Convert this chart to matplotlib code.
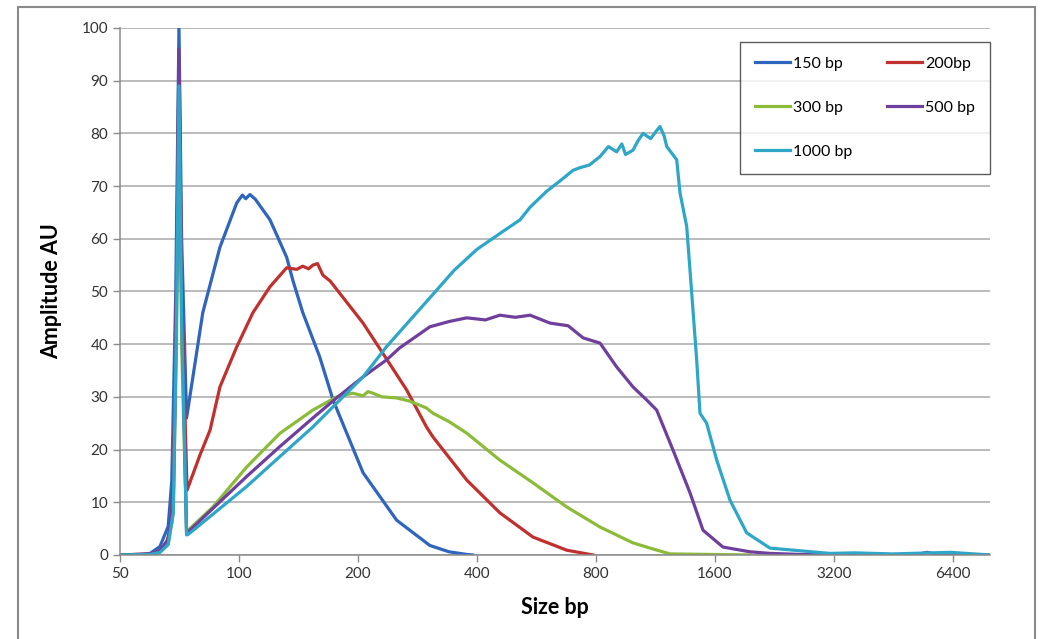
import matplotlib
matplotlib.use("Agg")
import matplotlib.pyplot as plt
from matplotlib.patches import Rectangle
from matplotlib.ticker import FixedLocator, FixedFormatter, NullLocator

plt.rcParams['font.family'] = ['Lato', 'DejaVu Sans']

# fragment size (bp) and amplitude (AU)
bp150_x = [50, 56.2, 59.6, 63.1, 66.2, 67.6, 69.2, 70.5, 71.6, 73.7, 81, 89.5, 98.7,
           102, 104, 106.6, 110, 119.8, 132, 137, 145, 160, 173, 206, 250.5, 304, 340, 377, 390]
bp150_y = [0, 0, 0.3, 1.6, 5.4, 14, 50, 100, 60, 26, 46, 58.4, 66.8,
           68.3, 67.6, 68.4, 67.5, 63.6, 56.5, 52, 46, 37.6, 29.4, 15.6, 6.6, 1.8, 0.6, 0.1, 0]

bp200_x = [50, 59.6, 63.1, 65.6, 67.6, 69.0, 70.5, 71.6, 73.9, 79.7, 84.5, 89.5, 98.7,
           108.5, 119.8, 132, 140, 145, 150, 153.8, 158, 163, 170, 206, 231, 265.6, 298,
           309.5, 377, 457, 554, 675, 786]
bp200_y = [0, 0.2, 0.8, 2.3, 6, 30, 92, 50, 12.3, 19, 23.7, 31.9, 39.5,
           46, 50.9, 54.5, 54.2, 54.8, 54.3, 55, 55.3, 53.1, 52, 44, 38.3, 31.3, 24.3,
           22.4, 14.2, 8, 3.4, 0.9, 0]

bp300_x = [50, 59.6, 63.1, 66.2, 68.2, 69.5, 70.5, 71.6, 73.7, 74.4, 85.9, 104.6, 127,
           153.8, 176.6, 194, 206, 212, 218, 230, 250.5, 270, 298, 309.5, 340, 377, 457,
           554, 675, 819, 992, 1096, 1231, 1962]
bp300_y = [0, 0.1, 0.5, 2, 8, 40, 88, 40, 4.2, 4.7, 9.1, 16.7, 23.1,
           27.5, 30, 30.7, 30.2, 31, 30.7, 30, 29.8, 29.2, 27.9, 26.9, 25.3, 23.1, 18,
           13.7, 9.1, 5.3, 2.3, 1.3, 0.2, 0]

bp500_x = [50, 59.6, 63.1, 66.2, 68.2, 69.5, 70.5, 71.6, 73.7, 74.4, 104.6, 127, 153.8,
           176.6, 206, 236, 255, 304, 340, 377, 420, 457, 500, 545, 612, 680, 742, 819,
           902, 992, 1075, 1139, 1253, 1383, 1492, 1676, 1962, 2204, 2625, 3125, 5100,
           5500, 5900, 7900]
bp500_y = [0, 0.2, 0.8, 3, 10, 50, 96, 50, 4.0, 4.4, 14.9, 20.6, 26,
           29.8, 33.8, 37, 39.3, 43.3, 44.3, 45, 44.6, 45.5, 45.1, 45.5, 44, 43.5, 41.2, 40.2,
           35.7, 31.9, 29.4, 27.5, 19.9, 11.8, 4.7, 1.5, 0.6, 0.3, 0.1, 0, 0,
           0.5, 0, 0]

bp1000_x = [50, 59.6, 63.1, 66.2, 68.2, 69.5, 70.5, 71.6, 73.7, 74.4, 104.6, 127, 153.8,
            176.6, 206, 236, 304, 350, 400, 457, 514, 545, 600, 649, 700, 729, 770, 800,
            819, 860, 902, 930, 950, 992, 1020, 1052, 1100, 1130, 1161, 1190, 1208, 1280,
            1305, 1357, 1397, 1438, 1466, 1524, 1616, 1746, 1924, 2204, 2625, 3125, 3600,
            4500, 6300, 7940]
bp1000_y = [0, 0.1, 0.5, 2, 8, 45, 89, 45, 3.8, 3.9, 13, 18.7, 24.3,
            28.8, 33.8, 39.5, 48.8, 54, 58, 61, 63.6, 66, 69, 71, 73, 73.5, 74, 75,
            75.6, 77.5, 76.5, 78, 76, 76.8, 78.5, 80, 79, 80.2, 81.3, 79.5, 77.5, 75,
            68.7, 62.3, 49.7, 37, 26.9, 25, 18, 10.4, 4.2, 1.3, 0.8, 0.3, 0.4,
            0.2, 0.5, 0]

x_ticks = [50, 100, 200, 400, 800, 1600, 3200, 6400]
y_ticks = list(range(0, 101, 10))

fig = plt.figure(figsize=(10.46, 6.39), dpi=100)
ax = fig.add_axes([0.1147, 0.1315, 0.8318, 0.8247])

# outer chart frame
fig.patches.append(Rectangle((18 / 1046, -0.02), 1017 / 1046, 1.02 - 7 / 639,
                             transform=fig.transFigure, fill=False,
                             edgecolor='#8a8a8a', linewidth=1.5))

lw = 2.3
l150, = ax.plot(bp150_x, bp150_y, color='#2f64bf', lw=lw, label='150 bp')
l200, = ax.plot(bp200_x, bp200_y, color='#c0302e', lw=lw, label='200bp')
l300, = ax.plot(bp300_x, bp300_y, color='#8cbb3a', lw=lw, label='300 bp')
l500, = ax.plot(bp500_x, bp500_y, color='#6f3f9e', lw=lw, label='500 bp')
l1000, = ax.plot(bp1000_x, bp1000_y, color='#2ea6c8', lw=lw, label='1000 bp')

ax.set_xscale('log', base=2)
ax.set_xlim(50, 7940)
ax.set_ylim(0, 100)
ax.xaxis.set_major_locator(FixedLocator(x_ticks))
ax.xaxis.set_major_formatter(FixedFormatter([str(t) for t in x_ticks]))
ax.xaxis.set_minor_locator(NullLocator())
ax.set_yticks(y_ticks)

ax.grid(axis='y', color='#a8a8a8', lw=1.1)
ax.set_axisbelow(True)
for s in ['top', 'right']:
    ax.spines[s].set_visible(False)
for s in ['left', 'bottom']:
    ax.spines[s].set_color('#8a8a8a')
    ax.spines[s].set_linewidth(1.1)
ax.tick_params(axis='both', colors='#8a8a8a', labelcolor='#333333', labelsize=11,
               length=5, width=1)

ax.set_xlabel('Size bp', fontsize=15.5, fontweight='bold', labelpad=12)
ax.set_ylabel('Amplitude AU', fontsize=15.5, fontweight='bold', labelpad=14)

leg = ax.legend(handles=[l150, l300, l1000, l200, l500], ncol=2, loc='upper right',
                bbox_to_anchor=(1.0, 0.974), fontsize=11.5, frameon=True, fancybox=False,
                edgecolor='#333333', handlelength=2.2, handletextpad=0.15,
                columnspacing=2.2, labelspacing=1.85, borderpad=0.95, borderaxespad=0)
leg.get_frame().set_linewidth(1.0)

fig.savefig('out.png', dpi=100)
